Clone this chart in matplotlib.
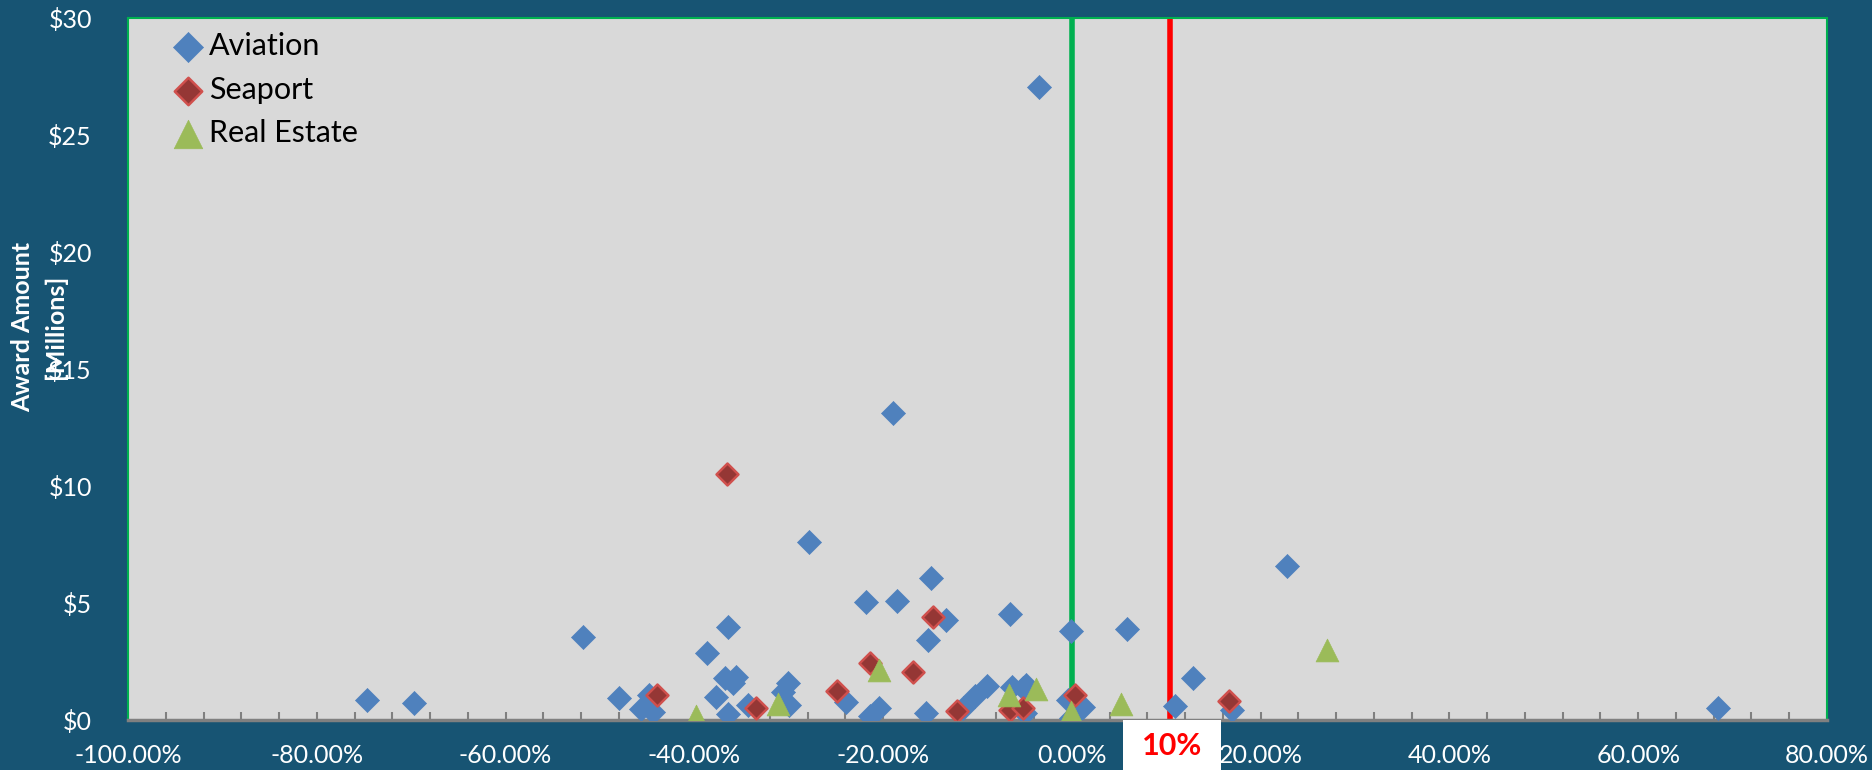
import matplotlib.pyplot as plt
import matplotlib.patches as patches
from matplotlib.ticker import MultipleLocator, FuncFormatter

plt.rcParams['font.family'] = ['Lato', 'DejaVu Sans']

# ---------------- data (x = % change, y = award in $ millions) ----------------
aviation_x = [-74.7, -69.7, -51.8, -48.0, -45.6, -44.8, -44.4, -38.7, -37.7, -36.4,
              -36.7, -36.4, -35.6, -35.9, -34.3, -30.6, -30.1, -30.0, -27.9, -23.9,
              -21.8, -21.4, -20.4, -18.95, -18.5, -15.5, -14.9, -15.2, -13.3, -11.5,
              -10.3, -9.0, -6.6, -6.3, -5.2, -4.9, -5.0, -3.5, -0.1, -0.4,
              -0.1, 1.2, 5.8, 10.9, 12.8, 17.0, 22.8, 68.4]
aviation_y = [0.87, 0.72, 3.56, 0.93, 0.46, 1.07, 0.35, 2.86, 1.0, 3.99,
              1.78, 0.26, 1.85, 1.57, 0.64, 1.21, 1.57, 0.64, 7.6, 0.78,
              5.03, 0.17, 0.5, 13.1, 5.07, 0.29, 6.06, 3.42, 4.27, 0.5,
              1.03, 1.47, 4.52, 1.42, 1.35, 1.5, 0.29, 27.04, 3.80, 0.85,
              0.1, 0.54, 3.87, 0.6, 1.78, 0.43, 6.58, 0.5]

seaport_x = [-44.0, -36.5, -33.5, -24.9, -21.4, -16.8, -14.7, -12.2, -6.6, -5.2, 0.3, 16.6]
seaport_y = [1.07, 10.5, 0.5, 1.24, 2.45, 2.07, 4.39, 0.4, 0.43, 0.53, 1.07, 0.81]

realestate_x = [-39.8, -31.1, -20.4, -6.7, -3.8, -0.1, 5.2, 27.0]
realestate_y = [0.15, 0.68, 2.14, 1.07, 1.31, 0.36, 0.7, 3.0]

threshold = 10.4   # red line ("10%")
bg = '#175473'

fig = plt.figure(figsize=(18.72, 7.7), dpi=100, facecolor=bg)
ax = fig.add_axes([128/1872, 50/770, 1699/1872, 702/770])
ax.set_facecolor('#D9D9D9')

ax.scatter(aviation_x, aviation_y, marker='D', s=150, color='#4F81BD',
           edgecolors='#4F81BD', linewidths=0.5, label='Aviation', zorder=3)
ax.scatter(seaport_x, seaport_y, marker='D', s=125, color='#953735',
           edgecolors='#D0504D', linewidths=1.8, label='Seaport', zorder=4)
ax.scatter(realestate_x, realestate_y, marker='^', s=270, color='#9BBB59',
           edgecolors='#9BBB59', linewidths=0.5, label='Real Estate', zorder=5)

ax.axvline(0, color='#00B050', lw=4, zorder=2)
ax.axvline(threshold, color='#FF0000', lw=4, zorder=2)

ax.set_xlim(-100, 80)
ax.set_ylim(0, 30)
ax.xaxis.set_major_locator(MultipleLocator(20))
ax.xaxis.set_minor_locator(MultipleLocator(4))
ax.yaxis.set_major_locator(MultipleLocator(5))
ax.xaxis.set_major_formatter(FuncFormatter(lambda v, p: '%.2f%%' % v))
ax.yaxis.set_major_formatter(FuncFormatter(lambda v, p: '$%d' % v))

ax.tick_params(axis='x', which='both', direction='in', color='#808080', width=1.5,
               length=6, labelcolor='white', labelsize=18, pad=17)
ax.tick_params(axis='y', length=0, labelcolor='white', labelsize=18, pad=26)

for side in ['top', 'left', 'right']:
    ax.spines[side].set_color('#00B050')
    ax.spines[side].set_linewidth(1.5)
ax.spines['bottom'].set_color('#808080')
ax.spines['bottom'].set_linewidth(2.5)

leg = ax.legend(loc='upper left', bbox_to_anchor=(0.01, 1.01), frameon=False,
                fontsize=22, handletextpad=0.0, labelspacing=0.5, borderaxespad=0.3,
                markerscale=1.25, handlelength=1.4)
for t in leg.get_texts():
    t.set_color('black')

# y label, two lines as in the original (second line sits over the $15 label)
ylab_y = (770-327)/770
fig.text(23/1872, ylab_y, 'Award Amount', rotation=90, ha='center', va='center',
         color='white', fontsize=18, fontweight='bold')
fig.text(55/1872, ylab_y, '[Millions]', rotation=90, ha='center', va='center',
         color='white', fontsize=18, fontweight='bold')

# white box with the 10% label under the axis
fig.patches.append(patches.Rectangle((1123/1872, 0), 98/1872, 50/770,
                                     transform=fig.transFigure, facecolor='white',
                                     edgecolor='none', zorder=10))
fig.text(1172/1872, 24/770, '10%', ha='center', va='center', color='#FF0000',
         fontsize=22, fontweight='bold', zorder=11)

fig.savefig('out.png', dpi=100, facecolor=bg)
